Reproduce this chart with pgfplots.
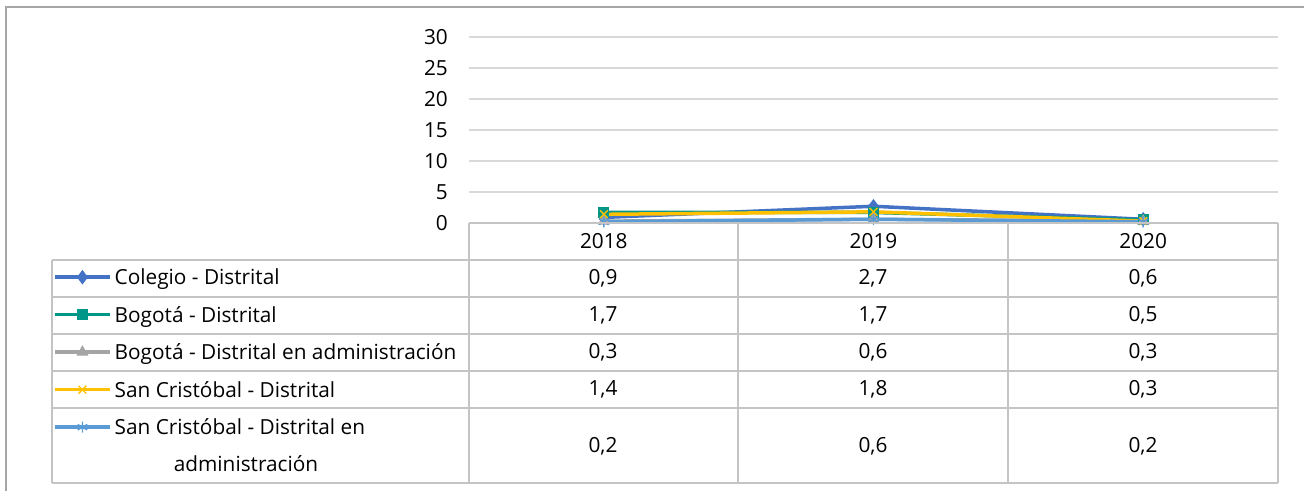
\documentclass[border=0pt]{standalone}
\usepackage{fontspec}
\setmainfont{Open Sans}
\usepackage{pgfplots}
\pgfplotsset{compat=1.18}
\definecolor{cBlue}{HTML}{4472C4}
\definecolor{cTeal}{HTML}{009688}
\definecolor{cGray}{HTML}{A5A5A5}
\definecolor{cYellow}{HTML}{FFC000}
\definecolor{cLBlue}{HTML}{5B9BD5}
\definecolor{gridc}{HTML}{D9D9D9}
\definecolor{tabc}{HTML}{C4C4C4}
\definecolor{framec}{HTML}{A6A6A6}
\newcommand{\tf}{\fontsize{20.8}{24}\selectfont}
\begin{document}
\begin{tikzpicture}[x=1pt,y=1pt]
\useasboundingbox (0pt,0pt) rectangle (1304pt,491pt);
% outer frame (top and left visible)
\draw[framec, line width=1.3pt] (6pt,0pt) -- (6pt,484pt) -- (1304pt,484pt);
\begin{axis}[
  at={(469pt,268pt)}, anchor=south west,
  scale only axis, width=809pt, height=186pt,
  xmin=-0.5, xmax=2.5, ymin=0, ymax=30,
  ytick={0,5,10,15,20,25,30},
  xtick={0,1,2}, xticklabels={2018,2019,2020},
  major tick length=0pt,
  axis line style={draw=none},
  ymajorgrids, grid style={gridc, line width=1.3pt},
  /pgf/number format/assume math mode=true,
  ticklabel style={font=\tf, inner sep=0pt},
  yticklabel style={anchor=east, xshift=-21pt},
  xticklabel style={anchor=center, yshift=-18pt},
  clip=false,
  legend image code/.code={\draw[mark repeat=2,mark phase=2,#1] plot coordinates {(0pt,0pt) (27.5pt,0pt) (55pt,0pt)};},
  legend style={draw=none, fill=none, inner sep=0pt, anchor=north west,
    at={(-0.5142,-0.25)}, row sep=22.5pt, column sep=3pt,
    nodes={anchor=west, inner sep=0pt, text height=15pt, text depth=0pt, font=\tf}},
  legend cell align=left,
]
\addplot[cBlue, line width=3.5pt, mark=diamond*, mark size=6.5pt, mark options={solid, fill=cBlue, line width=1pt}] coordinates {(0,0.9) (1,2.7) (2,0.6)};
\addlegendentry{Colegio - Distrital}
\addplot[cTeal, line width=3.5pt, mark=square*, mark size=5pt, mark options={solid, fill=cTeal, line width=1pt}] coordinates {(0,1.7) (1,1.7) (2,0.5)};
\addlegendentry{Bogotá - Distrital}
\addplot[cGray, line width=3.5pt, mark=triangle*, mark size=6pt, mark options={solid, fill=cGray, line width=1pt}] coordinates {(0,0.3) (1,0.6) (2,0.3)};
\addlegendentry{Bogotá - Distrital en administración}
\addplot[cYellow, line width=3.5pt, mark=x, mark size=5.5pt, mark options={solid, line width=1.4pt}] coordinates {(0,1.4) (1,1.8) (2,0.3)};
\addlegendentry{San Cristóbal - Distrital}
\addplot[cLBlue, line width=3.5pt, mark=asterisk, mark size=5.5pt, mark options={solid, line width=1.4pt}] coordinates {(0,0.2) (1,0.6) (2,0.2)};
\addlegendentry{San Cristóbal - Distrital en}
\end{axis}
% data table grid
\begin{scope}[tabc, line width=1.4pt]
\draw (469pt,268pt) -- (1278pt,268pt);
\foreach \yy in {260,297,334,371,408,483} \draw (52pt,491pt-\yy pt) -- (1278pt,491pt-\yy pt);
\draw (52pt,231pt) -- (52pt,8pt);
\foreach \xx in {469,738,1008,1278} \draw (\xx pt,268pt) -- (\xx pt,8pt);
\end{scope}
\node[font=\tf, inner sep=0pt] at (246pt,27pt) {administración};
% values
\begin{scope}[every node/.style={font=\tf, inner sep=0pt}]
\node at (603pt,213pt) {0,9}; \node at (873pt,213pt) {2,7}; \node at (1143pt,213pt) {0,6};
\node at (603pt,176pt) {1,7}; \node at (873pt,176pt) {1,7}; \node at (1143pt,176pt) {0,5};
\node at (603pt,139pt) {0,3}; \node at (873pt,139pt) {0,6}; \node at (1143pt,139pt) {0,3};
\node at (603pt,102pt) {1,4}; \node at (873pt,102pt) {1,8}; \node at (1143pt,102pt) {0,3};
\node at (603pt,45pt) {0,2}; \node at (873pt,45pt) {0,6}; \node at (1143pt,45pt) {0,2};
\end{scope}
\end{tikzpicture}
\end{document}
